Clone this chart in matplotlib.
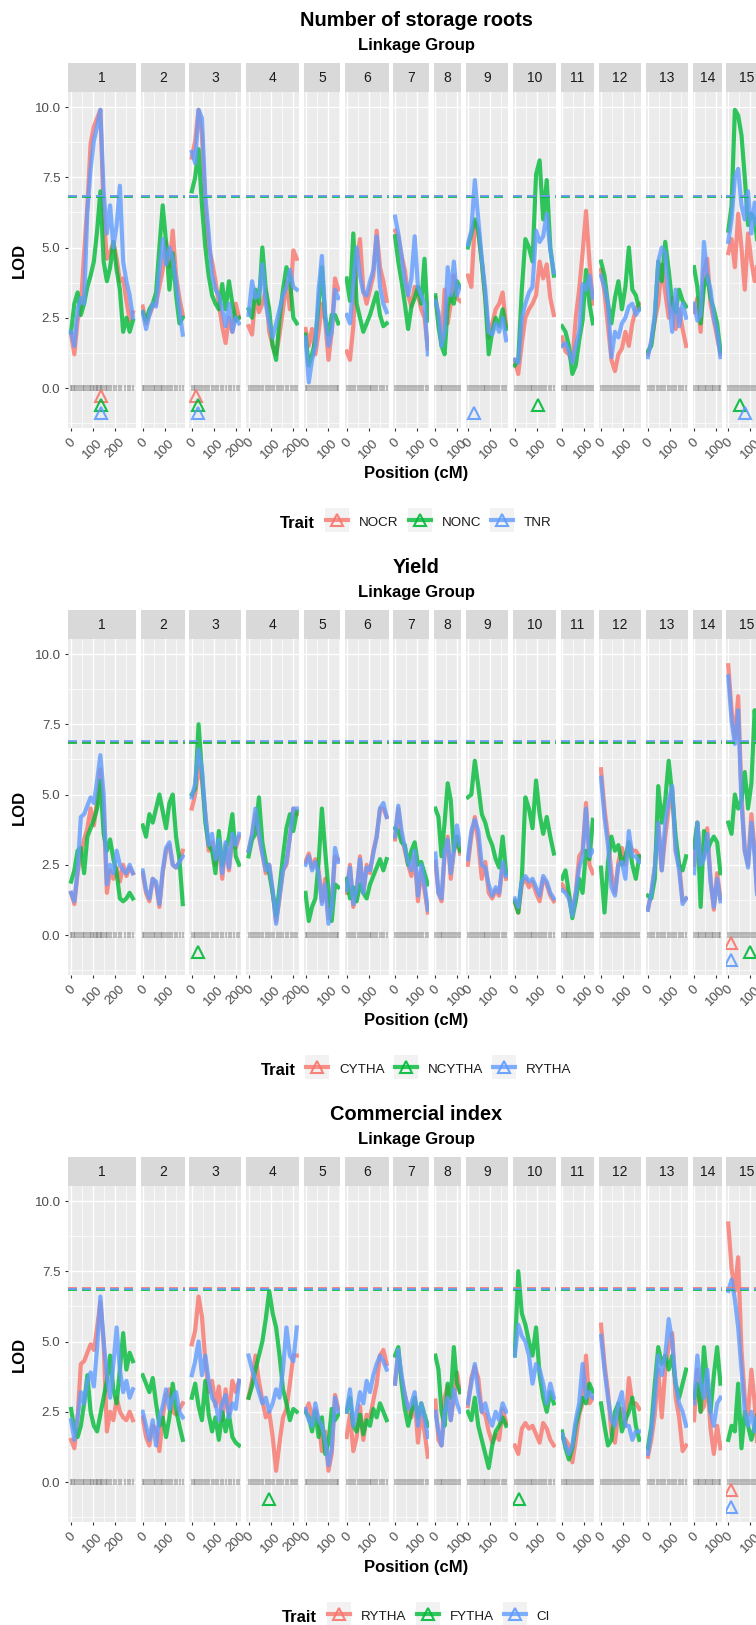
import numpy as np
import matplotlib.pyplot as plt
from matplotlib.lines import Line2D
from matplotlib.patches import Rectangle

plt.rcParams['font.family'] = ['Liberation Sans', 'DejaVu Sans']

W, H, DPI = 756, 1625, 100
PX_PER_CM = 0.22      # horizontal scale shared by every linkage-group panel
ROW_STEP = 547        # vertical distance between the three stacked plots
YLIM = (-1.423, 10.534)

lg_names = [str(i) for i in range(1, 16)]
lg_length = [281, 182, 215, 219, 149, 182, 149, 112, 174, 178, 140, 174, 174, 120, 165]

# marker positions (cM) for the rug at LOD 0
markers_cm = [
    [0, 6, 13, 19, 27, 35, 44, 52, 60, 68, 77, 85, 92, 99, 105, 112, 118, 124, 130, 136,
     142, 149, 157, 165, 174, 183, 193, 204, 216, 229, 243, 258, 270, 281],
    [0, 7, 15, 24, 33, 41, 50, 58, 66, 74, 81, 89, 97, 106, 115, 124, 134, 145, 157, 170, 182],
    [0, 8, 16, 25, 33, 42, 51, 60, 70, 80, 90, 100, 111, 121, 132, 143, 155, 167, 180, 193, 205, 215],
    [0, 9, 18, 27, 37, 47, 57, 67, 77, 87, 97, 107, 117, 127, 137, 147, 158, 169, 180, 191, 203, 212, 219],
    [0, 8, 16, 25, 33, 42, 51, 60, 69, 78, 87, 96, 105, 114, 124, 134, 142, 149],
    [0, 10, 20, 30, 40, 50, 60, 70, 80, 88, 96, 104, 112, 121, 130, 140, 150, 161, 172, 182],
    [0, 9, 18, 27, 36, 45, 54, 63, 72, 81, 90, 99, 108, 118, 128, 139, 149],
    [0, 8, 16, 24, 32, 41, 50, 59, 68, 77, 86, 95, 104, 112],
    [0, 9, 18, 27, 36, 45, 54, 63, 72, 80, 88, 96, 104, 113, 122, 132, 142, 153, 164, 174],
    [0, 9, 18, 27, 36, 45, 54, 63, 72, 80, 88, 96, 104, 113, 122, 132, 142, 154, 166, 178],
    [0, 8, 16, 24, 32, 41, 50, 59, 68, 77, 86, 95, 104, 113, 122, 131, 140],
    [0, 9, 18, 27, 36, 45, 54, 63, 72, 81, 90, 99, 108, 117, 126, 135, 145, 155, 165, 174],
    [0, 10, 20, 30, 40, 50, 60, 70, 80, 90, 100, 110, 120, 130, 140, 150, 162, 174],
    [0, 8, 16, 24, 32, 40, 48, 56, 64, 72, 80, 88, 96, 104, 112, 120],
    [0, 9, 18, 27, 36, 45, 54, 63, 72, 81, 90, 99, 108, 117, 126, 135, 145, 155, 165],
]

# LOD profiles, one list per linkage group (evenly spaced along the group)
nocr_lod = [
    [1.9, 1.2, 2.4, 2.9, 4.8, 6.5, 8.7, 9.3, 9.6, 9.9, 6.2, 4.6, 4.8, 5.2, 4.6, 3.8, 3.9, 3.1, 2.4, 2.7],
    [2.9, 2.3, 2.6, 2.9, 3.0, 3.6, 4.2, 5.2, 4.3, 5.6, 4.0, 3.2, 2.6],
    [8.2, 8.8, 9.9, 9.0, 6.5, 5.0, 4.5, 3.8, 3.0, 2.2, 1.6, 2.5, 2.0, 3.0, 2.5],
    [2.2, 1.9, 3.3, 2.7, 3.0, 3.5, 2.0, 1.5, 1.2, 1.9, 2.8, 3.8, 2.8, 4.9, 4.6],
    [2.1, 1.5, 2.1, 1.2, 2.0, 3.0, 2.4, 1.0, 2.0, 3.9, 3.5],
    [1.3, 1.0, 2.2, 4.5, 5.3, 3.5, 3.0, 3.5, 4.0, 5.6, 4.3, 3.8, 3.1],
    [5.6, 5.4, 4.7, 4.2, 3.3, 2.9, 3.6, 3.3, 2.8, 2.5, 1.4],
    [3.2, 2.5, 1.6, 3.5, 2.3, 3.0, 4.0, 3.2, 3.1],
    [4.0, 3.6, 5.9, 5.5, 4.5, 3.2, 1.8, 2.3, 2.8, 3.0, 3.4, 2.2],
    [1.0, 0.5, 1.6, 2.5, 2.8, 3.0, 3.3, 4.5, 3.9, 4.4, 3.2, 2.6],
    [1.8, 1.3, 1.2, 0.9, 2.5, 3.5, 4.8, 6.3, 4.5, 3.0],
    [4.2, 3.4, 2.2, 1.0, 0.6, 1.2, 1.4, 2.0, 1.5, 2.3, 2.8, 3.0],
    [1.2, 1.6, 2.4, 3.0, 4.4, 3.4, 2.5, 3.2, 2.1, 2.8, 2.1, 1.5],
    [2.7, 3.2, 2.0, 4.2, 4.6, 3.0, 2.4, 1.8, 1.2],
    [4.8, 5.3, 4.3, 6.2, 5.0, 3.5, 5.5, 4.5, 3.8, 4.5, 4.0, 3.5],
]
nonc_lod = [
    [2.0, 3.0, 3.4, 2.6, 3.0, 3.6, 4.0, 4.5, 5.6, 7.0, 4.5, 3.8, 4.3, 5.2, 4.2, 3.5, 2.0, 2.5, 2.0, 2.4],
    [2.7, 2.4, 2.8, 3.0, 3.4, 5.0, 6.5, 5.2, 3.5, 4.8, 3.3, 2.3, 2.5],
    [7.0, 7.5, 8.5, 6.5, 5.0, 4.0, 3.3, 3.0, 2.8, 3.7, 2.8, 3.8, 3.0, 2.4, 2.5],
    [2.8, 2.5, 3.5, 3.0, 5.0, 3.5, 2.8, 1.5, 1.0, 2.5, 3.5, 4.3, 3.9, 2.5, 2.3],
    [1.9, 0.8, 1.2, 1.7, 3.0, 4.3, 2.5, 1.9, 2.6, 2.6, 2.3],
    [3.9, 3.1, 5.5, 3.0, 2.5, 2.0, 2.3, 2.6, 3.0, 3.4, 2.6, 2.2, 2.3],
    [5.4, 4.5, 3.8, 3.0, 2.1, 2.9, 3.2, 3.6, 3.0, 4.6, 2.4],
    [3.3, 2.2, 1.5, 1.2, 2.9, 3.3, 3.0, 3.8, 3.6],
    [5.0, 5.5, 6.0, 5.6, 4.5, 3.2, 1.2, 2.0, 2.5, 2.2, 2.8, 2.1],
    [0.8, 1.0, 3.5, 5.3, 5.0, 4.5, 7.6, 8.1, 6.0, 7.4, 5.0, 4.0],
    [2.2, 2.0, 1.5, 0.5, 0.8, 1.7, 2.4, 4.2, 3.0, 2.3],
    [4.5, 4.0, 3.0, 2.3, 3.2, 3.8, 2.8, 3.6, 5.0, 3.5, 3.3, 2.8],
    [1.3, 1.5, 2.5, 4.5, 3.8, 5.2, 4.2, 3.0, 2.7, 3.5, 3.1, 2.9],
    [4.3, 3.6, 2.3, 3.6, 4.0, 3.2, 2.8, 2.3, 1.3],
    [5.6, 6.5, 9.9, 9.7, 9.0, 7.5, 5.8, 6.2, 6.0, 5.0, 4.5, 4.0],
]
tnr_lod = [
    [2.0, 1.5, 2.8, 3.2, 3.0, 6.3, 7.8, 8.8, 9.3, 9.9, 7.0, 5.5, 6.5, 5.0, 5.8, 7.2, 4.5, 3.8, 3.3, 2.5],
    [2.7, 2.1, 2.6, 3.0, 2.9, 4.2, 5.3, 4.4, 5.0, 4.6, 3.8, 2.8, 1.9],
    [8.4, 8.0, 9.9, 9.6, 6.8, 5.5, 4.0, 3.5, 3.3, 2.8, 2.2, 3.0, 2.0, 2.5, 2.3],
    [2.6, 3.8, 3.2, 3.3, 4.4, 3.0, 2.3, 1.8, 2.3, 2.8, 3.3, 3.6, 4.2, 3.6, 3.5],
    [1.8, 0.2, 1.0, 1.5, 3.5, 4.7, 2.6, 1.5, 2.0, 3.5, 3.2],
    [2.6, 2.3, 3.7, 5.0, 4.0, 3.4, 3.3, 3.8, 4.2, 5.4, 3.6, 3.0, 2.7],
    [6.1, 5.5, 4.7, 3.8, 3.3, 3.9, 5.4, 3.6, 3.3, 3.0, 1.2],
    [3.1, 2.7, 1.5, 2.0, 4.3, 3.3, 4.5, 3.3, 3.6],
    [5.1, 5.6, 7.4, 6.0, 4.6, 3.5, 2.0, 1.9, 2.3, 2.0, 2.5, 1.7],
    [1.0, 0.9, 2.5, 3.0, 3.4, 3.6, 5.6, 5.2, 5.4, 6.2, 4.9, 4.1],
    [1.5, 1.6, 1.3, 0.9, 1.5, 2.0, 3.7, 3.5, 4.0, 3.2],
    [4.0, 3.6, 3.0, 1.1, 2.0, 1.8, 2.3, 2.5, 2.9, 3.0, 2.6, 2.8],
    [1.1, 1.7, 2.6, 4.5, 5.0, 4.8, 3.2, 2.0, 3.5, 2.2, 3.0, 2.5],
    [3.0, 2.4, 2.6, 5.2, 4.0, 3.5, 2.5, 2.0, 1.1],
    [5.2, 6.0, 7.5, 7.8, 6.5, 6.0, 7.0, 5.5, 6.6, 5.5, 5.0, 4.6],
]
cytha_lod = [
    [1.5, 1.1, 2.2, 2.9, 3.4, 3.8, 4.5, 3.9, 4.8, 5.9, 4.5, 1.5, 2.3, 2.0, 2.4, 1.9, 2.5, 2.1, 2.4, 2.2],
    [2.2, 1.5, 1.2, 2.0, 1.8, 1.0, 2.2, 3.0, 3.2, 2.5, 2.4, 2.6, 3.0],
    [4.5, 5.0, 6.0, 5.5, 4.3, 3.0, 3.3, 2.5, 3.2, 2.0, 3.2, 2.3, 3.5, 3.1, 3.5],
    [3.0, 3.5, 4.3, 3.5, 2.9, 2.2, 2.5, 1.5, 0.5, 1.3, 2.3, 2.5, 3.5, 4.5, 4.3],
    [2.6, 2.9, 2.4, 2.7, 2.3, 1.2, 2.0, 0.6, 1.2, 2.8, 2.7],
    [1.5, 2.5, 1.0, 1.5, 2.8, 1.5, 2.5, 2.2, 3.0, 3.5, 4.5, 4.5, 4.2],
    [3.4, 4.5, 3.5, 3.0, 2.5, 2.1, 2.8, 1.2, 2.3, 1.6, 0.8],
    [2.6, 1.5, 1.2, 2.8, 3.5, 2.0, 3.0, 3.5, 2.9],
    [2.5, 3.5, 4.2, 3.3, 2.0, 2.6, 1.5, 1.3, 1.6, 1.4, 2.5, 2.0],
    [1.2, 0.8, 1.8, 2.0, 1.7, 1.9, 1.5, 1.2, 2.0, 1.8, 1.4, 1.2],
    [1.8, 1.6, 1.4, 0.8, 1.5, 2.8, 3.0, 4.7, 2.5, 2.2],
    [5.9, 4.5, 3.5, 2.2, 1.5, 2.6, 3.1, 2.5, 3.3, 3.0, 3.0, 2.8],
    [0.9, 1.5, 2.4, 4.0, 2.3, 3.5, 4.5, 5.2, 3.0, 2.5, 1.2, 1.3],
    [2.5, 4.0, 2.6, 2.8, 3.8, 2.0, 0.9, 2.2, 1.3],
    [9.6, 8.0, 7.0, 8.5, 5.0, 3.0, 2.5, 4.3, 3.0, 1.0, 2.0, 2.2],
]
ncytha_lod = [
    [1.9, 2.3, 3.0, 3.1, 2.2, 3.5, 3.8, 4.1, 4.5, 5.5, 3.6, 3.0, 3.4, 2.7, 2.2, 1.3, 1.2, 1.3, 1.5, 1.3],
    [3.9, 3.5, 4.3, 4.0, 4.5, 5.0, 4.4, 3.8, 4.7, 5.0, 3.5, 2.7, 1.1],
    [5.0, 5.2, 7.5, 5.8, 4.0, 3.2, 3.0, 2.2, 3.7, 2.5, 3.0, 3.5, 4.3, 2.8, 2.5],
    [2.8, 3.4, 3.6, 4.9, 3.3, 2.6, 2.2, 1.5, 0.7, 1.7, 2.8, 3.8, 4.3, 3.7, 4.4],
    [1.5, 0.5, 1.0, 1.3, 2.6, 4.5, 3.0, 1.6, 0.5, 1.8, 1.7],
    [2.0, 1.3, 1.7, 1.2, 1.8, 1.5, 1.3, 1.8, 2.1, 2.4, 2.7, 2.3, 2.7],
    [3.8, 3.7, 3.3, 3.2, 2.5, 3.0, 3.3, 2.5, 2.6, 2.2, 1.8],
    [4.5, 4.2, 2.8, 4.0, 5.4, 4.8, 3.0, 3.5, 3.0],
    [4.9, 5.0, 6.2, 5.3, 4.3, 4.0, 3.5, 3.2, 2.7, 2.4, 3.5, 2.2],
    [1.2, 0.8, 2.0, 4.9, 4.5, 3.8, 5.5, 4.3, 3.6, 4.2, 3.5, 2.9],
    [2.0, 2.3, 1.5, 0.6, 1.2, 2.0, 1.5, 3.0, 2.7, 4.1],
    [2.4, 0.8, 2.6, 3.5, 3.0, 3.2, 2.5, 2.8, 3.3, 2.5, 2.0, 2.8],
    [1.4, 1.3, 2.0, 5.3, 4.0, 4.8, 6.2, 5.0, 3.5, 2.5, 2.3, 2.8],
    [3.1, 4.0, 1.0, 3.7, 3.0, 3.3, 3.5, 3.3, 2.2],
    [4.0, 3.6, 5.0, 4.5, 4.8, 5.8, 4.5, 5.4, 8.0, 6.5, 5.0, 4.0],
]
rytha_lod = [
    [1.5, 1.2, 2.3, 4.2, 4.3, 4.6, 4.9, 4.7, 5.5, 6.4, 5.0, 1.8, 2.5, 2.2, 3.0, 2.5, 2.3, 2.2, 2.5, 2.2],
    [2.3, 1.6, 1.3, 2.0, 1.9, 1.1, 2.3, 3.1, 3.3, 2.5, 2.4, 2.6, 2.8],
    [4.9, 5.4, 6.6, 5.9, 4.3, 3.2, 3.6, 2.7, 3.4, 2.2, 3.3, 2.4, 3.6, 3.2, 3.6],
    [3.0, 3.6, 4.5, 3.6, 2.9, 2.3, 2.5, 1.6, 0.4, 1.4, 2.3, 2.6, 3.5, 4.5, 4.5],
    [2.5, 2.8, 2.3, 2.6, 2.2, 1.1, 1.8, 0.4, 1.0, 3.1, 2.6],
    [1.6, 2.4, 1.1, 1.6, 2.7, 1.5, 2.4, 2.3, 2.9, 3.5, 4.5, 4.7, 4.2],
    [3.5, 4.6, 3.7, 3.1, 2.6, 2.3, 3.0, 1.4, 2.5, 1.8, 0.9],
    [2.9, 1.5, 1.3, 3.0, 3.4, 2.2, 3.0, 3.9, 3.2],
    [2.7, 3.7, 4.1, 3.7, 2.5, 2.4, 1.8, 1.4, 1.7, 1.5, 2.6, 2.1],
    [1.3, 1.0, 1.9, 2.1, 1.9, 2.0, 1.7, 1.4, 2.1, 1.9, 1.5, 1.3],
    [1.6, 1.5, 1.3, 0.7, 1.5, 2.4, 2.8, 4.5, 2.8, 3.0],
    [5.6, 4.2, 3.2, 1.7, 1.4, 2.5, 2.6, 2.0, 3.7, 2.8, 2.8, 2.6],
    [0.9, 1.5, 2.4, 4.0, 2.3, 4.0, 4.8, 5.3, 3.0, 2.3, 1.1, 1.3],
    [2.2, 4.0, 2.5, 2.7, 3.6, 1.9, 1.0, 2.0, 1.2],
    [9.2, 7.6, 6.8, 8.0, 4.7, 3.0, 2.4, 4.0, 2.8, 0.9, 1.9, 2.0],
]
fytha_lod = [
    [2.6, 1.9, 1.6, 2.0, 2.8, 3.8, 2.5, 2.0, 1.8, 2.4, 3.0, 3.6, 4.5, 3.3, 2.8, 4.0, 5.3, 4.0, 4.6, 4.3],
    [3.8, 3.5, 3.2, 3.7, 2.8, 2.0, 2.3, 1.6, 2.3, 3.5, 2.6, 2.0, 1.5],
    [3.0, 3.5, 2.7, 2.2, 3.6, 2.4, 1.8, 2.3, 1.5, 2.5, 1.8, 2.4, 1.6, 1.4, 1.3],
    [3.0, 3.4, 4.0, 4.5, 5.0, 5.8, 6.8, 6.0, 5.5, 4.5, 3.3, 2.8, 2.2, 2.6, 2.5],
    [2.5, 2.3, 1.8, 2.5, 1.6, 2.3, 1.0, 1.4, 2.6, 2.2, 2.4],
    [2.5, 3.0, 2.0, 1.8, 2.4, 1.7, 2.2, 2.0, 2.6, 2.3, 2.8, 2.5, 2.2],
    [4.5, 4.8, 3.5, 2.6, 2.0, 2.5, 3.0, 2.3, 2.8, 2.4, 2.0],
    [4.5, 4.0, 2.5, 2.0, 3.5, 3.0, 4.8, 3.5, 3.2],
    [2.5, 2.2, 3.0, 2.0, 1.5, 1.0, 0.5, 1.3, 1.8, 2.0, 2.3, 2.0],
    [4.5, 7.5, 6.0, 5.6, 5.0, 4.5, 5.5, 3.8, 3.0, 2.5, 3.2, 2.8],
    [1.8, 1.2, 0.8, 1.2, 2.0, 2.5, 3.0, 2.8, 3.5, 3.2],
    [2.8, 2.0, 1.3, 1.5, 2.5, 2.8, 1.8, 2.2, 2.5, 3.0, 2.0, 1.5],
    [1.2, 2.0, 3.5, 4.8, 4.2, 4.5, 4.0, 4.5, 3.5, 3.0, 3.5, 4.0],
    [3.0, 3.5, 2.5, 4.8, 3.5, 2.5, 3.8, 4.8, 3.5],
    [1.5, 2.0, 1.8, 3.5, 1.2, 2.5, 2.0, 1.5, 2.0, 2.5, 3.0, 2.5],
]
ci_lod = [
    [2.2, 1.5, 2.3, 3.2, 2.8, 3.6, 3.9, 3.4, 4.8, 6.6, 5.0, 3.8, 3.0, 4.2, 5.5, 4.0, 3.2, 3.6, 3.0, 3.3],
    [2.5, 2.0, 1.5, 2.2, 1.3, 2.3, 2.7, 3.3, 2.6, 3.0, 3.2, 2.5, 2.3],
    [3.8, 4.3, 5.0, 3.8, 4.5, 3.6, 3.0, 2.8, 2.2, 2.8, 3.1, 2.3, 2.8, 2.6, 3.6],
    [4.5, 4.0, 3.6, 3.2, 2.8, 3.0, 2.5, 2.8, 3.3, 3.0, 4.0, 5.5, 4.5, 4.3, 5.5],
    [2.6, 2.2, 2.0, 2.8, 2.2, 2.0, 1.5, 0.6, 1.2, 3.0, 2.5],
    [2.5, 3.3, 2.0, 2.5, 3.2, 2.8, 3.6, 3.2, 3.8, 4.2, 4.5, 4.3, 4.0],
    [3.5, 4.7, 3.8, 3.1, 2.6, 2.8, 3.2, 2.0, 2.8, 2.3, 1.6],
    [2.5, 1.8, 1.3, 2.5, 3.0, 2.2, 3.3, 2.8, 2.5],
    [2.8, 3.5, 4.2, 3.2, 2.5, 2.8, 2.3, 2.0, 2.5, 2.2, 2.8, 2.5],
    [4.5, 5.6, 5.2, 5.0, 4.5, 3.5, 4.2, 4.0, 3.5, 2.8, 3.5, 3.0],
    [1.7, 1.3, 1.0, 1.3, 2.2, 2.8, 4.2, 3.0, 3.2, 3.0],
    [5.2, 4.0, 3.0, 2.2, 2.0, 2.8, 3.2, 2.0, 2.0, 1.5, 1.8, 1.8],
    [1.0, 1.8, 3.0, 4.5, 3.8, 4.5, 5.8, 5.0, 3.5, 2.8, 2.5, 2.0],
    [2.8, 4.5, 3.5, 3.0, 4.0, 2.5, 2.0, 2.8, 3.0],
    [6.8, 7.2, 6.5, 5.5, 4.0, 2.5, 2.0, 2.5, 1.8, 2.5, 2.2, 2.0],
]

# significance thresholds per trait
thr_roots = [6.82, 6.80, 6.85]
thr_yield = [6.87, 6.82, 6.90]
thr_ci = [6.90, 6.82, 6.86]

# QTL peaks as (linkage group index, position cM)
nocr_qtl = [(0, 136), (2, 18)]
nonc_qtl = [(0, 136), (2, 30), (9, 106), (14, 52)]
tnr_qtl = [(0, 136), (2, 30), (8, 26), (14, 74)]
cytha_qtl = [(14, 13)]
ncytha_qtl = [(2, 30), (14, 101)]
rytha_qtl = [(14, 13)]
fytha_qtl = [(3, 91), (9, 20)]
ci_qtl = [(14, 13)]

trait_colors = ['#F8766D', '#00BA38', '#619CFF']

rows = [
    ('Number of storage roots', ['NOCR', 'NONC', 'TNR'],
     [nocr_lod, nonc_lod, tnr_lod], thr_roots, [nocr_qtl, nonc_qtl, tnr_qtl]),
    ('Yield', ['CYTHA', 'NCYTHA', 'RYTHA'],
     [cytha_lod, ncytha_lod, rytha_lod], thr_yield, [cytha_qtl, ncytha_qtl, rytha_qtl]),
    ('Commercial index', ['RYTHA', 'FYTHA', 'CI'],
     [rytha_lod, fytha_lod, ci_lod], thr_ci, [rytha_qtl, fytha_qtl, ci_qtl]),
]

fig = plt.figure(figsize=(W / DPI, H / DPI), dpi=DPI)
renderer = fig.canvas.get_renderer()


def px_axes(x, y, w, h):
    return fig.add_axes([x / W, 1 - (y + h) / H, w / W, h / H])


def fxy(x, y):
    return x / W, 1 - y / H


def draw_legend(oy, traits):
    ty = oy + 528
    title = fig.text(0, 0, 'Trait', fontsize=12, fontweight='bold', va='baseline')
    labels = [fig.text(0, 0, t, fontsize=9.6, color='#1A1A1A', va='baseline') for t in traits]
    tw = title.get_window_extent(renderer).width
    lws = [lb.get_window_extent(renderer).width for lb in labels]
    total = tw + 10 + sum(24 + 10 + w for w in lws) + 9 * (len(traits) - 1)
    x = 416 - total / 2
    title.set_position(fxy(x, ty))
    x += tw + 10
    for k, lb in enumerate(labels):
        fig.add_artist(Rectangle(fxy(x, oy + 532), 24 / W, 24 / H, transform=fig.transFigure,
                                 facecolor='#F2F2F2', edgecolor='none'))
        cy = 1 - (oy + 520) / H
        fig.add_artist(Line2D([(x + 1) / W, (x + 23) / W], [cy, cy], transform=fig.transFigure,
                              color=trait_colors[k], lw=3.0, alpha=0.8))
        fig.add_artist(Line2D([(x + 12) / W], [cy], transform=fig.transFigure, marker='^',
                              ms=8, mfc='none', mec=trait_colors[k], mew=1.5, alpha=0.9))
        x += 24 + 10
        lb.set_position(fxy(x, oy + 526))
        x += lws[k] + 9


for r, (title, traits, lods, thr, qtls) in enumerate(rows):
    oy = r * ROW_STEP
    x = 68.0
    for i, L in enumerate(lg_length):
        w = 1.1 * L * PX_PER_CM

        strip = px_axes(x, oy + 63, w, 29)
        strip.set_facecolor('#D9D9D9')
        strip.set_xticks([])
        strip.set_yticks([])
        for s in strip.spines.values():
            s.set_visible(False)
        strip.text(0.5, 0.5, lg_names[i], transform=strip.transAxes, ha='center', va='center',
                   fontsize=10, color='#1A1A1A')

        ax = px_axes(x, oy + 92, w, 336)
        ax.set_facecolor('#EBEBEB')
        ax.set_xlim(-0.05 * L, 1.05 * L)
        ax.set_ylim(*YLIM)
        for s in ax.spines.values():
            s.set_visible(False)

        xt = [t for t in (0, 100, 200, 300) if t <= 1.05 * L]
        xm = [t for t in (50, 150, 250) if t <= 1.05 * L]
        for t in (-1.25, 1.25, 3.75, 6.25, 8.75):
            ax.axhline(t, color='white', lw=0.5, zorder=0.5)
        for t in xm:
            ax.axvline(t, color='white', lw=0.5, zorder=0.5)
        for t in (0, 2.5, 5, 7.5, 10):
            ax.axhline(t, color='white', lw=1.0, zorder=0.6)
        for t in xt:
            ax.axvline(t, color='white', lw=1.0, zorder=0.6)

        ax.vlines(markers_cm[i], -0.12, 0.12, colors='#555555', alpha=0.35, lw=1.5, zorder=1)

        for k in range(3):
            vals = lods[k][i]
            xs = np.linspace(0, L, len(vals))
            ax.plot(xs, vals, color=trait_colors[k], lw=3.0, alpha=0.8, zorder=2 + k)
        for k in range(3):
            ax.axhline(thr[k], color=trait_colors[k], lw=1.2, ls=(0, (5.4, 3.0)), zorder=6 + k)
        for k in range(3):
            for lg, pos in qtls[k]:
                if lg == i:
                    ax.plot([pos], [-0.3 * (k + 1)], marker='^', ms=8, mfc='none',
                            mec=trait_colors[k], mew=1.5, alpha=0.9, zorder=9)

        ax.set_xticks(xt)
        ax.set_xticklabels([str(t) for t in xt], rotation=45, ha='center')
        ax.tick_params(axis='x', length=2.5, width=0.8, color='#333333', labelsize=9.6,
                       labelcolor='#4D4D4D', pad=3.6)
        if i == 0:
            ax.set_yticks([0, 2.5, 5, 7.5, 10])
            ax.set_yticklabels(['0.0', '2.5', '5.0', '7.5', '10.0'])
            ax.tick_params(axis='y', length=2.5, width=0.8, color='#333333', labelsize=9.6,
                           labelcolor='#4D4D4D', pad=2.9)
        else:
            ax.set_yticks([])
        x += w + 4.7

    fig.text(*fxy(416, oy + 26), title, ha='center', va='baseline', fontsize=14.4, fontweight='bold')
    fig.text(*fxy(416, oy + 50), 'Linkage Group', ha='center', va='baseline', fontsize=12,
             fontweight='bold')
    fig.text(*fxy(416, oy + 478), 'Position (cM)', ha='center', va='baseline', fontsize=12,
             fontweight='bold')
    fig.text(*fxy(19, oy + 260), 'LOD', ha='center', va='center', rotation=90, fontsize=12,
             fontweight='bold')
    draw_legend(oy, traits)

fig.savefig('out.png', dpi=DPI)
